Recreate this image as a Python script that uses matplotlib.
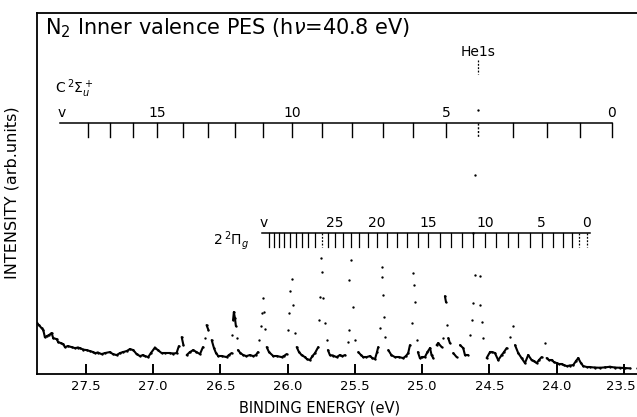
import matplotlib.pyplot as plt
import numpy as np

# Spectre (énergie de liaison en eV, intensité en unités arbitraires)
energy = [
    27.864, 27.850, 27.829, 27.817, 27.805, 27.790, 27.775, 27.755, 27.743, 27.718,
    27.706, 27.686, 27.669, 27.656, 27.634, 27.606, 27.582, 27.559, 27.545, 27.520,
    27.495, 27.470, 27.446, 27.433, 27.411, 27.383, 27.359, 27.322, 27.299, 27.272,
    27.247, 27.225, 27.197, 27.173, 27.148, 27.123, 27.098, 27.076, 27.061, 27.037,
    27.017, 26.987, 26.965, 26.937, 26.913, 26.875, 26.853, 26.826, 26.809, 26.788,
    26.775, 26.751, 26.727, 26.702, 26.678, 26.652, 26.630, 26.615, 26.603, 26.589,
    26.565, 26.548, 26.533, 26.516, 26.489, 26.454, 26.437, 26.417, 26.411, 26.406,
    26.400, 26.392, 26.385, 26.380, 26.370, 26.351, 26.330, 26.307, 26.281, 26.256,
    26.236, 26.221, 26.210, 26.199, 26.191, 26.186, 26.173, 26.165, 26.156, 26.139,
    26.107, 26.080, 26.045, 26.028, 26.008, 25.996, 25.989, 25.983, 25.971, 25.959,
    25.946, 25.933, 25.916, 25.896, 25.872, 25.857, 25.835, 25.816, 25.797, 25.773,
    25.765, 25.760, 25.755, 25.748, 25.736, 25.723, 25.710, 25.701, 25.686, 25.664,
    25.636, 25.612, 25.593, 25.574, 25.550, 25.547, 25.543, 25.532, 25.513, 25.500,
    25.475, 25.455, 25.438, 25.414, 25.388, 25.370, 25.351, 25.336, 25.327, 25.314,
    25.302, 25.297, 25.290, 25.284, 25.277, 25.252, 25.229, 25.203, 25.173, 25.141,
    25.121, 25.104, 25.091, 25.078, 25.071, 25.061, 25.054, 25.041, 25.032, 25.017,
    24.998, 24.980, 24.961, 24.942, 24.930, 24.918, 24.893, 24.881, 24.855, 24.843,
    24.831, 24.823, 24.814, 24.806, 24.794, 24.769, 24.744, 24.719, 24.695, 24.682,
    24.658, 24.645, 24.632, 24.625, 24.620, 24.608, 24.606, 24.583, 24.571, 24.570,
    24.558, 24.546, 24.521, 24.496, 24.478, 24.459, 24.435, 24.409, 24.392, 24.372,
    24.348, 24.328, 24.310, 24.286, 24.261, 24.236, 24.212, 24.186, 24.169, 24.149,
    24.132, 24.112, 24.087, 24.075, 24.058, 24.038, 24.020, 24.000, 23.983, 23.963,
    23.946, 23.926, 23.902, 23.877, 23.857, 23.840, 23.820, 23.803, 23.775, 23.753,
    23.716, 23.678, 23.641, 23.604, 23.567, 23.530, 23.493, 23.455, 23.405,
]
intensity = [
    51, 49, 46, 44, 37, 38, 39, 41, 36, 35,
    32, 31, 30, 27, 28, 27, 26, 26.5, 26, 24.5,
    24, 23, 22, 21, 21.5, 20, 21, 22, 20, 19,
    21, 22, 23, 25, 24, 20, 18, 19, 18, 17,
    21, 26.5, 24, 21, 21, 21, 20.5, 21, 28, 37,
    29, 19, 22, 24, 22, 20, 27, 36, 49, 44,
    34, 26, 21, 18, 18, 17, 19, 21, 39, 54,
    62, 56, 48, 36, 24, 21, 19, 18, 19, 18,
    19, 22, 34, 48, 61, 76, 62, 45, 27, 22,
    18, 18, 17, 18, 20, 44, 61, 83, 95, 69,
    41, 27, 22, 19, 17, 15, 14, 18, 21, 27,
    54, 77, 116, 102, 76, 51, 34, 24, 19, 18.5,
    17, 19, 18, 19, 32, 44, 94, 114, 67, 34,
    22, 19, 17, 17, 18, 16, 15, 22, 27, 46,
    97, 107, 79, 57, 37, 24, 19, 17, 17, 16,
    18, 21, 29, 51, 101, 89, 72, 34, 22, 16,
    17, 17, 22, 26, 19, 16, 29, 31, 27, 36,
    78, 72, 49, 36, 31, 21, 17, 29, 26, 19,
    19, 39, 54, 71, 141, 99, 199, 264, 98, 69,
    52, 36, 16, 22, 22, 21, 14, 19, 22, 26,
    37, 48, 29, 21, 16, 11, 19, 14, 13, 11,
    14, 17, 31, 16, 14, 14, 12, 11, 10, 10,
    9, 8, 8.5, 9, 13, 16, 11, 8, 7, 7,
    6.5, 6.3, 6.7, 7.3, 6.5, 6.3, 6, 5.7, 6.3,
]

# Progression C 2Σu+ (v = 0 ... 18) et position de He 1s
c_levels = [23.589, 23.827, 24.072, 24.325, 24.585, 24.823, 25.069, 25.292, 25.522,
            25.745, 25.968, 26.184, 26.392, 26.593, 26.779, 26.972, 27.151, 27.322,
            27.485]
c_labels = {0: "0", 5: "5", 10: "10", 15: "15"}

# Progression 2 2Πg (v = 0 ... 36)
pi_levels = [23.777, 23.832, 23.889, 23.956, 24.030, 24.112, 24.199, 24.286, 24.365,
             24.454, 24.533, 24.620, 24.707, 24.786, 24.868, 24.955, 25.032, 25.110,
             25.188, 25.262, 25.336, 25.403, 25.470, 25.530, 25.589, 25.649, 25.701,
             25.747, 25.797, 25.846, 25.894, 25.939, 25.983, 26.024, 26.065, 26.102,
             26.139]
pi_labels = {0: "0", 5: "5", 10: "10", 15: "15", 20: "20", 25: "25"}
pi_dashed = [0, 1, 27]
he1s = 24.585

xticks = [27.5, 27.0, 26.5, 26.0, 25.5, 25.0, 24.5, 24.0, 23.5]

plt.rcParams["font.family"] = ["DejaVu Sans"]

fig = plt.figure(figsize=(6.37, 4.17), dpi=100)
ax = fig.add_axes([0.058, 0.103, 0.942, 0.867])

e = np.array(energy)
s = np.array(intensity)

# points reliés seulement quand ils sont proches (fond dense)
for i in range(len(e) - 1):
    if abs(s[i + 1] - s[i]) <= 8 and abs(e[i + 1] - e[i]) <= 0.045:
        ax.plot(e[i:i + 2], s[i:i + 2], color="black", lw=1.5,
                solid_capstyle="round")
ax.plot(e, s, "o", color="black", ms=1.7, mew=0)

dash = (0, (1.5, 1.2))

# échelle C 2Σu+
y_c = 251
ax.plot([27.693, c_levels[0]], [y_c, y_c], color="black", lw=1.1)
for v, lev in enumerate(c_levels):
    ls = dash if v == 4 else "-"
    ax.plot([lev, lev], [y_c, y_c - 14], color="black", lw=1.0, ls=ls)
    if v in c_labels:
        ax.text(lev, y_c + 3, c_labels[v], ha="center", va="bottom", fontsize=10)
ax.text(27.678, y_c + 3, "v", ha="center", va="bottom", fontsize=10)
ax.text(27.730, 286, r"C$\,^2\Sigma_u^+$", ha="left", va="center", fontsize=10)

# He 1s
ax.text(he1s, 322, "He1s", ha="center", va="center", fontsize=10)
ax.plot([he1s, he1s], [314, 300], color="black", lw=0.9, ls=dash)

# échelle 2 2Πg
y_p = 141.5
ax.plot([26.191, 23.753], [y_p, y_p], color="black", lw=1.1)
for v, lev in enumerate(pi_levels):
    ls = dash if v in pi_dashed else "-"
    ax.plot([lev, lev], [y_p, y_p - 14], color="black", lw=0.9, ls=ls)
    if v in pi_labels:
        ax.text(lev, y_p + 3, pi_labels[v], ha="center", va="bottom", fontsize=10)
ax.text(26.176, y_p + 3, "v", ha="center", va="bottom", fontsize=10)
ax.text(26.285, 134, r"2$\,^2\Pi_g$", ha="right", va="center", fontsize=10)

# titre dans le cadre
ax.text(0.013, 0.99, r"N$_2$ Inner valence PES (h$\nu$=40.8 eV)",
        transform=ax.transAxes, ha="left", va="top", fontsize=15)

ax.set_xlim(27.864, 23.403)
ax.set_ylim(0, 362)
ax.set_xticks(xticks)
# dernière étiquette (23.5) écrite à part pour rester dans le cadre
ax.set_xticklabels([f"{t:.1f}" for t in xticks[:-1]] + [""], fontsize=9.5)
ax.annotate(f"{xticks[-1]:.1f}", xy=(xticks[-1], 0), xycoords=("data", "axes fraction"),
            xytext=(-2.5, -4), textcoords="offset points", ha="center", va="top",
            fontsize=9.5)
ax.set_yticks([])
ax.tick_params(axis="x", direction="in", length=7, width=1.4, pad=4)
for side in ["top", "left", "bottom"]:
    ax.spines[side].set_linewidth(1.3)
ax.spines["right"].set_visible(False)

fig.text(0.502, 0.022, "BINDING ENERGY (eV)", ha="center", va="center", fontsize=10.5)
fig.text(0.019, 0.537, "INTENSITY (arb.units)", ha="center", va="center",
         rotation=90, fontsize=11.5)

fig.savefig("out.png", dpi=100)
